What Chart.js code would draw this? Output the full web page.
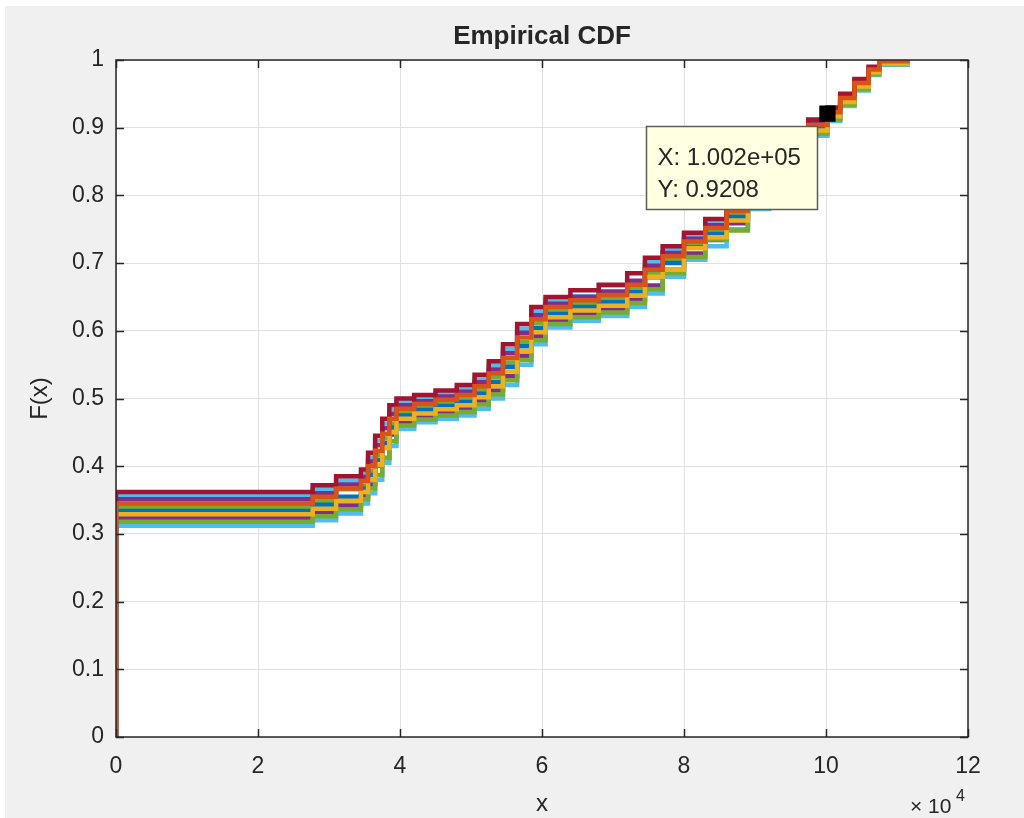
<!DOCTYPE html>
<html>
<head>
<meta charset="utf-8">
<script src="https://cdn.jsdelivr.net/npm/chart.js@4.4.0/dist/chart.umd.min.js"></script>
<style>
  html, body { margin: 0; padding: 0; background: #fff; }
  #wrap { width: 1024px; height: 818px; }
</style>
</head>
<body>
<div id="wrap"><canvas id="c" width="1024" height="818"></canvas></div>
<script>
// step breakpoints (x), shared by all the ECDF curves
var xBreaks = [0, 0, 27700, 31000, 34500, 35500, 36500, 37500, 38500, 39500, 42000, 45000, 48000, 50500,
  52500, 54500, 56500, 58500, 60500, 64000, 68000, 72000, 74500, 77000, 80000, 83000, 86000, 89000,
  92000, 95000, 97500, 100200, 102000, 104000, 106000, 107500, 111500];

// F(x) of each curve at the breakpoints, top of the band first
var cdf1 = [0, .362, .372, .385, .395, .420, .445, .470, .490, .500, .505, .512, .520, .535, .555, .580, .610, .635, .650, .660, .668, .685, .708, .725, .745, .765, .790, .815, .845, .880, .912, .930, .950, .972, .990, 1.000, 1];
var cdf2 = [0, .356, .366, .379, .389, .413, .438, .463, .483, .495, .501, .507, .515, .529, .549, .573, .603, .629, .645, .651, .667, .672, .702, .720, .741, .761, .786, .811, .841, .877, .909, .928, .948, .970, .989, .999, 1];
var cdf3 = [0, .351, .360, .373, .384, .407, .431, .456, .477, .490, .496, .503, .510, .524, .543, .567, .597, .623, .640, .650, .658, .674, .696, .715, .736, .756, .781, .807, .837, .873, .907, .926, .946, .968, .987, .998, 1];
var cdf4 = [0, .345, .355, .367, .378, .400, .423, .448, .470, .485, .492, .498, .505, .518, .537, .560, .590, .617, .635, .645, .653, .668, .690, .710, .732, .752, .777, .803, .833, .870, .904, .923, .944, .966, .986, .998, 1];
var cdf5 = [0, .340, .349, .366, .371, .393, .416, .441, .463, .480, .487, .493, .500, .513, .531, .553, .583, .611, .630, .640, .648, .663, .684, .705, .727, .747, .772, .799, .829, .867, .901, .921, .942, .964, .985, .997, 1];
var cdf6 = [0, .334, .343, .355, .367, .387, .409, .434, .457, .475, .483, .489, .495, .507, .524, .547, .577, .604, .625, .635, .642, .657, .679, .700, .723, .743, .768, .796, .826, .863, .899, .919, .940, .963, .983, .996, 1];
var cdf7 = [0, .329, .337, .349, .362, .380, .402, .427, .450, .470, .478, .484, .490, .502, .518, .540, .570, .598, .620, .630, .637, .652, .680, .690, .722, .738, .763, .792, .822, .860, .896, .917, .938, .961, .982, .995, 1];
var cdf8 = [0, .323, .332, .342, .356, .373, .401, .412, .447, .465, .474, .479, .485, .496, .512, .533, .563, .592, .615, .625, .632, .646, .667, .690, .714, .734, .759, .788, .818, .857, .893, .914, .936, .959, .981, .995, 1];
var cdf9 = [0, .318, .326, .336, .351, .367, .387, .412, .437, .460, .469, .475, .480, .491, .506, .527, .557, .586, .610, .620, .627, .641, .661, .685, .709, .735, .748, .790, .814, .853, .891, .912, .934, .957, .979, .994, 1];
var cdf10 = [0, .312, .320, .330, .345, .360, .380, .405, .430, .455, .465, .470, .475, .485, .500, .520, .550, .580, .605, .615, .622, .635, .655, .680, .705, .725, .750, .780, .810, .850, .888, .910, .932, .955, .978, .993, 1];

// data tip
var tipX = 100200;
var tipY = 0.9208;

var xTicks = [0, 20000, 40000, 60000, 80000, 100000, 120000];
var yTicks = [0, 0.1, 0.2, 0.3, 0.4, 0.5, 0.6, 0.7, 0.8, 0.9, 1];

var curves = [cdf4, cdf1, cdf7, cdf3, cdf9, cdf2, cdf6, cdf10, cdf5, cdf8];
var colors = ['#D95319', '#A2142F', '#EDB120', '#7E2F8E', '#77AC30', '#4DBEEE', '#0072BD', '#4DBEEE', '#77AC30', '#7E2F8E'];

var FONT = '"Liberation Sans", Arial, Helvetica, sans-serif';
var INK = '#262626';

function pts(ys) {
  return xBreaks.map(function(x, i) { return { x: x, y: ys[i] }; });
}

function fmtExp(v) {
  var e = Math.floor(Math.log10(v));
  var m = (v / Math.pow(10, e)).toFixed(3);
  return m + 'e' + (e < 0 ? '-' : '+') + (Math.abs(e) < 10 ? '0' : '') + Math.abs(e);
}

var datasets = [{
  data: [{ x: tipX, y: tipY }],
  showLine: false,
  pointStyle: 'rect',
  pointRadius: 11.5,
  pointHoverRadius: 11.5,
  backgroundColor: '#000',
  borderColor: '#000',
  borderWidth: 0,
  order: -1
}];
curves.forEach(function(c, i) {
  datasets.push({
    data: pts(c),
    showLine: true,
    stepped: 'before',
    borderColor: colors[i],
    borderWidth: 4.5,
    pointRadius: 0,
    fill: false
  });
});

var decor = {
  id: 'decor',
  beforeDraw: function(chart) {
    var ctx = chart.ctx, a = chart.chartArea;
    ctx.save();
    ctx.fillStyle = '#ffffff';
    ctx.fillRect(0, 0, chart.width, chart.height);
    ctx.fillStyle = '#f0f0f0';
    ctx.fillRect(5, 6, chart.width - 5, chart.height - 6);
    ctx.fillStyle = '#ffffff';
    ctx.fillRect(a.left, a.top, a.right - a.left, a.bottom - a.top);
    ctx.restore();
  },
  afterDraw: function(chart) {
    var ctx = chart.ctx, a = chart.chartArea;
    var sx = chart.scales.x, sy = chart.scales.y;
    ctx.save();

    // axes box + inward ticks
    ctx.strokeStyle = INK;
    ctx.lineWidth = 1.5;
    ctx.strokeRect(a.left, a.top, a.right - a.left, a.bottom - a.top);
    ctx.beginPath();
    xTicks.forEach(function(v) {
      var p = Math.round(sx.getPixelForValue(v)) + 0.5;
      ctx.moveTo(p, a.bottom); ctx.lineTo(p, a.bottom - 8);
      ctx.moveTo(p, a.top); ctx.lineTo(p, a.top + 8);
    });
    yTicks.forEach(function(v) {
      var p = Math.round(sy.getPixelForValue(v)) + 0.5;
      ctx.moveTo(a.left, p); ctx.lineTo(a.left + 8, p);
      ctx.moveTo(a.right, p); ctx.lineTo(a.right - 8, p);
    });
    ctx.stroke();

    // data tip box
    var px = sx.getPixelForValue(tipX), py = sy.getPixelForValue(tipY);
    var bx = Math.round(px - 181) + 0.5, by = Math.round(py + 12) + 0.5;
    ctx.fillStyle = '#ffffe1';
    ctx.fillRect(bx, by, 171, 83);
    ctx.strokeStyle = '#5c5c5c';
    ctx.lineWidth = 1.5;
    ctx.strokeRect(bx, by, 171, 83);
    ctx.fillStyle = INK;
    ctx.font = '24px ' + FONT;
    ctx.textAlign = 'left';
    ctx.textBaseline = 'alphabetic';
    ctx.fillText('X: ' + fmtExp(tipX), bx + 11, by + 38);
    ctx.fillText('Y: ' + tipY.toFixed(4), bx + 11, by + 70);

    // title and axis labels
    ctx.textAlign = 'center';
    ctx.textBaseline = 'middle';
    ctx.font = 'bold 26px ' + FONT;
    ctx.fillText('Empirical CDF', (a.left + a.right) / 2, 37);
    ctx.font = '24px ' + FONT;
    ctx.fillText('x', (a.left + a.right) / 2, 804);
    ctx.save();
    ctx.translate(40, (a.top + a.bottom) / 2);
    ctx.rotate(-Math.PI / 2);
    ctx.fillText('F(x)', 0, 0);
    ctx.restore();

    // exponent label
    ctx.textAlign = 'left';
    ctx.textBaseline = 'alphabetic';
    ctx.font = '21px ' + FONT;
    ctx.fillText('\u00d7 10', a.right - 58, 813);
    ctx.font = '16px ' + FONT;
    ctx.fillText('4', a.right - 12, 801);
    ctx.restore();
  }
};

new Chart(document.getElementById('c'), {
  type: 'scatter',
  data: { datasets: datasets },
  options: {
    responsive: false,
    animation: false,
    devicePixelRatio: 1,
    layout: { padding: { top: 60, right: 56, left: 0, bottom: 0 } },
    plugins: { legend: { display: false }, tooltip: { enabled: false }, title: { display: false } },
    events: [],
    scales: {
      x: {
        type: 'linear', min: 0, max: 120000,
        afterFit: function(s) { s.height = 81; },
        afterBuildTicks: function(s) { s.ticks = xTicks.map(function(v) { return { value: v }; }); },
        ticks: {
          color: INK, padding: 16, maxRotation: 0,
          font: { family: FONT, size: 23 },
          callback: function(v) { return String(v / 10000); }
        },
        grid: { color: '#e0e0e0', lineWidth: 1, drawTicks: false },
        border: { display: false }
      },
      y: {
        type: 'linear', min: 0, max: 1,
        afterFit: function(s) { s.width = 116; },
        afterBuildTicks: function(s) { s.ticks = yTicks.map(function(v) { return { value: v }; }); },
        ticks: {
          color: INK, padding: 12,
          font: { family: FONT, size: 23 },
          callback: function(v) { return String(Math.round(v * 10) / 10); }
        },
        grid: { color: '#e0e0e0', lineWidth: 1, drawTicks: false },
        border: { display: false }
      }
    }
  },
  plugins: [decor]
});
</script>
</body>
</html>
